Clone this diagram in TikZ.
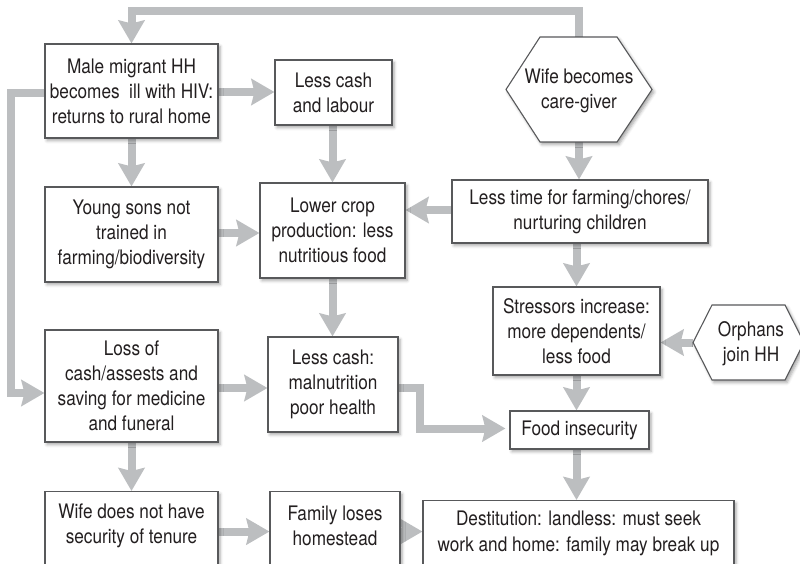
\documentclass[tikz,border=0pt]{standalone}
\usepackage{fontspec}
\setmainfont{TeX Gyre Heros}[FakeStretch=0.86]
\usetikzlibrary{arrows.meta,shadows.blur,calc}
\definecolor{arr}{HTML}{BCBEC0}
\definecolor{boxc}{HTML}{58595B}
\definecolor{txtc}{HTML}{231F20}
\pgfdeclarelayer{bg}
\pgfsetlayers{bg,main}
\begin{document}
\begin{tikzpicture}[x=1pt,y=-1pt,
  font=\fontsize{20}{25}\selectfont,
  shad/.style={blur shadow={shadow xshift=2pt, shadow yshift=-2.5pt, shadow blur radius=3pt, shadow opacity=35}},
  box/.style={draw=boxc, line width=1.1pt, fill=white, text=txtc, align=center, inner sep=0pt, shad},
  hexbox/.style={draw=boxc, line width=1.1pt, fill=white, shad},
  txt/.style={text=txtc, align=center, inner sep=0pt},
  flow/.style={draw=arr, line width=8pt, -{Stealth[length=23pt,width=26pt,inset=3pt]}},
]
\useasboundingbox (0,0) rectangle (800,564);

% boxes
\node[box, minimum width=173, minimum height=94] (mm) at (131.5,91) {Male migrant HH\\becomes\ \ ill with HIV:\\returns to rural home};
\node[box, minimum width=117, minimum height=65] (lc) at (333.5,92.5) {Less cash\\and labour};
\node[box, minimum width=173, minimum height=95] (ys) at (131.5,234.5) {Young sons not\\trained in\\farming/biodiversity};
\node[box, minimum width=145, minimum height=95] (lcp) at (332.5,230.5) {Lower crop\\production: less\\nutritious food};
\node[box, minimum width=256, minimum height=63] (lt) at (580,211.5) {Less time for farming/chores/\\nurturing children};
\node[box, minimum width=167, minimum height=88] (st) at (576.5,331) {Stressors increase:\\more dependents/\\less food};
\node[box, minimum width=173, minimum height=112] (loss) at (131.5,386) {Loss of\\cash/assests and\\saving for medicine\\and funeral};
\node[box, minimum width=130, minimum height=95] (lcm) at (333,384.5) {Less cash:\\malnutrition\\poor health};
\node[box, minimum width=139, minimum height=38] (fi) at (579.5,430) {Food insecurity};

% bottom boxes (cut by the page edge)
\node[box, anchor=north, minimum width=173, minimum height=100] (wdbox) at (131.5,491) {};
\node[txt] (wd) at (131.5,525.5) {Wife does not have\\security of tenure};
\node[box, anchor=north, minimum width=130, minimum height=100] (flbox) at (335,491) {};
\node[txt] (fl) at (335,525.5) {Family loses\\homestead};
\node[box, anchor=north, minimum width=311, minimum height=100] (destbox) at (578.5,500) {};
\node[txt, font=\fontsize{20}{26.5}\selectfont] (dest) at (578.5,533.5) {Destitution: landless: must seek\\work and home: family may break up};

% hexagons
\path[hexbox] (506,89.5) -- (540,37) -- (617,37) -- (652,89.5) -- (617,142) -- (540,142) -- cycle;
\node[txt] (wife) at (579,91) {Wife becomes\\care-giver};
\coordinate (wifeT) at (579,37);
\coordinate (wifeB) at (579,142);
\path[hexbox] (693,342.5) -- (712,305) -- (785,305) -- (804,342.5) -- (785,380) -- (712,380) -- cycle;
\node[txt] (orph) at (751,344) {Orphans\\join HH};
\coordinate (orphW) at (693,342.5);

% connectors
\begin{pgfonlayer}{bg}
\draw[flow] (wifeT) -- (579,11) -| (mm.north);
\draw[flow] ($(mm.east)+(0,1)$) -- ($(lc.west)+(0,-0.5)$);
\draw[flow] (mm.south) -- (ys.north);
\draw[flow] ($(mm.west)+(0,2)$) -- (11,93) |- ($(loss.west)+(0,7)$);
\draw[flow] (lc.south -| lcp.north) -- (lcp.north);
\draw[flow] ($(ys.east)+(0,-1.5)$) -- ($(lcp.west)+(0,2.5)$);
\draw[flow] ($(lt.west)+(0,-1.5)$) -- ($(lcp.east)+(0,-20.5)$);
\draw[flow] (wifeB) -- (lt.north -| wifeB);
\draw[flow] (lcp.south) -- (lcp.south |- lcm.north);
\draw[flow] ($(loss.east)+(0,2)$) -- ($(lcm.west)+(0,3.5)$);
\draw[flow] (loss.south) -- (wdbox.north);
\draw[flow] (lt.south -| st.north) -- (st.north);
\draw[flow] (orphW) -- (st.east |- orphW);
\draw[flow] ($(lcm.east)+(0,3.5)$) -- (420,388) |- ($(fi.west)+(-4,-1.5)$);
\draw[flow] (st.south) -- (st.south |- fi.north);
\draw[flow] (fi.south -| st.south) -- (destbox.north -| st.south);
\draw[flow] ($(wdbox.east)+(0,-10)$) -- ($(flbox.west)+(0,-10)$);
\draw[flow] ($(flbox.east)+(0,-10)$) -- ($(destbox.west)+(0,-19)$);
\end{pgfonlayer}
\end{tikzpicture}
\end{document}
